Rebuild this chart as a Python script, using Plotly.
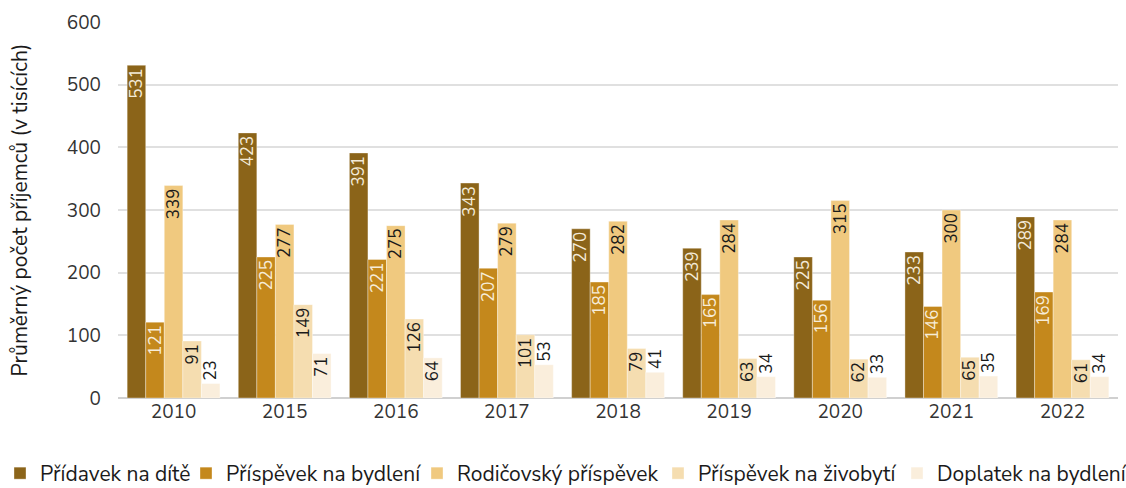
import plotly.graph_objects as go

years = ["2010", "2015", "2016", "2017", "2018", "2019", "2020", "2021", "2022"]

pridavek = [531, 423, 391, 343, 270, 239, 225, 233, 289]
bydleni = [121, 225, 221, 207, 185, 165, 156, 146, 169]
rodicovsky = [339, 277, 275, 279, 282, 284, 315, 300, 284]
zivobyti = [91, 149, 126, 101, 79, 63, 62, 65, 61]
doplatek = [23, 71, 64, 53, 41, 34, 33, 35, 34]

series = [
    ("Přídavek na dítě", pridavek, "#8b6419", "#f3ead8"),
    ("Příspěvek na bydlení", bydleni, "#c4881c", "#f6ecd8"),
    ("Rodičovský příspěvek", rodicovsky, "#f0c97f", "#1a1a1a"),
    ("Příspěvek na živobytí", zivobyti, "#f5ddb0", "#1a1a1a"),
    ("Doplatek na bydlení", doplatek, "#faeedc", "#1a1a1a"),
]

W, H = 1126, 488
FONT = "Nunito Sans, Noto Sans, sans-serif"
LABEL_SIZE = 17

# left edge (px) of each legend entry along the bottom row
legend_left = [-4, 186, 417, 658, 897]
legend_top = 453

fig = go.Figure()
layout_legends = {}
for i, (name, vals, color, txtcol) in enumerate(series):
    lg = "legend" if i == 0 else f"legend{i + 1}"
    # short bars get their label above the bar
    positions = ["inside" if v >= 55 else "outside" for v in vals]
    fig.add_trace(go.Bar(
        name=name,
        x=years,
        y=vals,
        text=[str(v) for v in vals],
        textposition=positions,
        textangle=-90,
        insidetextanchor="end",
        insidetextfont=dict(color=txtcol, size=LABEL_SIZE, family=FONT),
        outsidetextfont=dict(color="#1a1a1a", size=LABEL_SIZE, family=FONT),
        constraintext="none",
        cliponaxis=False,
        legend=lg,
        marker=dict(color=color, line=dict(color="rgba(255,255,255,0.35)", width=1)),
    ))
    layout_legends[lg] = dict(
        xref="container",
        yref="container",
        x=legend_left[i] / W,
        y=1 - legend_top / H,
        xanchor="left",
        yanchor="top",
        orientation="h",
        font=dict(size=21, color="#1a1a1a", family=FONT),
        bgcolor="rgba(0,0,0,0)",
    )

fig.update_layout(
    width=W,
    height=H,
    barmode="group",
    bargap=0.165,
    bargroupgap=0,
    plot_bgcolor="white",
    paper_bgcolor="white",
    margin=dict(l=118, r=8, t=22, b=90),
    font=dict(family=FONT, size=19, color="#333333"),
    uniformtext=dict(mode="show", minsize=LABEL_SIZE),
    showlegend=True,
    xaxis=dict(
        showgrid=False,
        ticks="",
        showline=False,
        tickfont=dict(size=19, color="#333333"),
    ),
    yaxis=dict(
        range=[0, 600],
        dtick=100,
        gridcolor="#e0e0e0",
        gridwidth=1.5,
        zeroline=True,
        zerolinecolor="#d0d0d0",
        zerolinewidth=1.5,
        ticklabelstandoff=16,
        tickfont=dict(size=19, color="#333333"),
        title=dict(text="Průměrný počet příjemců (v tisících)", font=dict(size=21, color="#1a1a1a"), standoff=33),
    ),
    **layout_legends,
)

fig.write_html("out.html")
